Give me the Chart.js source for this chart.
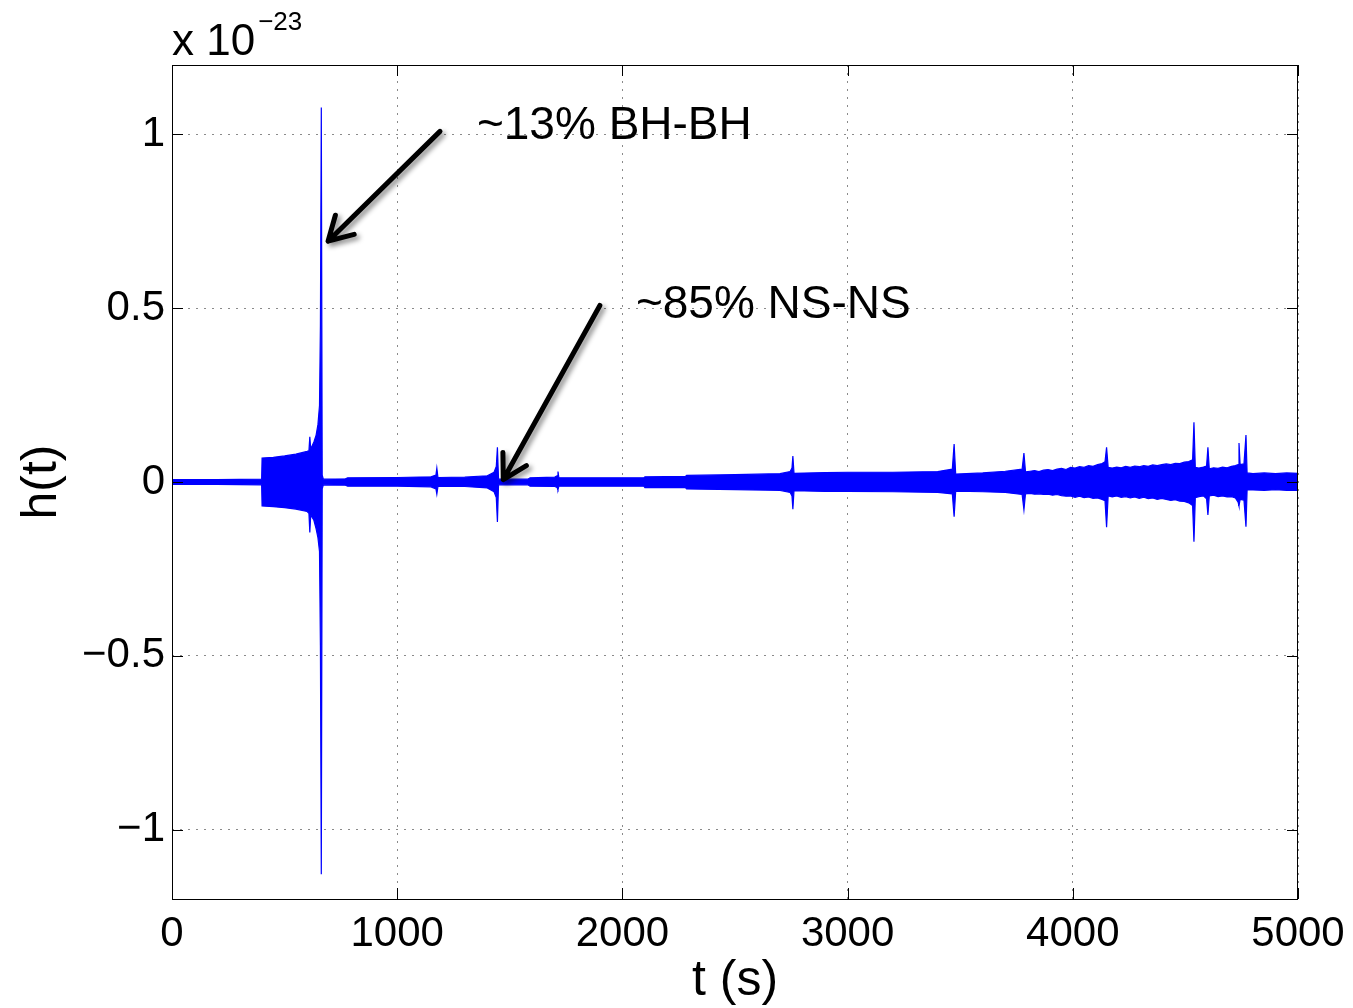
<!DOCTYPE html>
<html>
<head>
<meta charset="utf-8">
<script src="https://cdn.jsdelivr.net/npm/chart.js@4.4.1/dist/chart.umd.min.js"></script>
<style>
  html, body { margin: 0; padding: 0; background: #fff; }
</style>
</head>
<body>
<canvas id="strainChart" width="1353" height="1008"></canvas>
<script>
const FONT = "'Liberation Sans', Arial, Helvetica, sans-serif";

// envelope of the strain signal (h in units of 1e-23)
const envTime = [
  0, 200, 398, 400, 450, 500, 550, 600, 608, 612, 616, 630, 640, 648, 655, 659, 663, 667, 672,
  770, 780, 1000, 1150, 1172, 1176, 1181, 1300, 1400, 1430, 1440, 1445, 1450,
  1580, 1590, 1700, 1710, 1714, 1718, 2095, 2100, 2280, 2285, 2500, 2700,
  2745, 2753, 2757, 2762, 2900, 3000, 3200, 3400, 3465, 3473, 3480,
  3600, 3700, 3775, 3783, 3790, 3810, 3830, 3850, 3870, 3890, 3910, 3930, 3950, 3970,
  3990, 4010, 4030, 4050, 4070, 4090, 4110, 4130, 4143, 4150, 4157,
  4175, 4195, 4215, 4235, 4255, 4275, 4295, 4315, 4335, 4355, 4375, 4395,
  4415, 4435, 4455, 4475, 4495, 4515, 4532, 4538, 4544, 4560, 4580, 4594, 4600, 4606,
  4625, 4645, 4665, 4685, 4705, 4722, 4734, 4738, 4743, 4760, 4769, 4774,
  4800, 4850, 4900, 4950, 5000
];
const envUpper = [
  0.007, 0.007, 0.008, 0.069, 0.071, 0.075, 0.080, 0.088, 0.090, 0.130, 0.095, 0.115, 0.135, 0.165, 0.220, 0.450, 1.078, 0.020, 0.008,
  0.009, 0.012, 0.013, 0.015, 0.020, 0.040, 0.013, 0.014, 0.018, 0.028, 0.045, 0.100, 0.008,
  0.008, 0.012, 0.014, 0.018, 0.030, 0.012, 0.012, 0.015, 0.016, 0.019, 0.021, 0.024,
  0.030, 0.040, 0.075, 0.025, 0.027, 0.028, 0.028, 0.030, 0.037, 0.109, 0.023,
  0.026, 0.031, 0.037, 0.083, 0.029, 0.031, 0.033, 0.030, 0.034, 0.036, 0.033, 0.037, 0.039, 0.036,
  0.042, 0.040, 0.044, 0.042, 0.047, 0.045, 0.050, 0.053, 0.058, 0.100, 0.042,
  0.040, 0.043, 0.041, 0.045, 0.042, 0.046, 0.044, 0.047, 0.045, 0.049, 0.047, 0.050,
  0.052, 0.050, 0.054, 0.053, 0.057, 0.059, 0.064, 0.172, 0.042, 0.040, 0.043, 0.046, 0.100, 0.038,
  0.041, 0.039, 0.043, 0.041, 0.045, 0.047, 0.050, 0.112, 0.050, 0.052, 0.135, 0.026,
  0.024, 0.026, 0.024, 0.026, 0.025
];
const envLower = [
  -0.007, -0.007, -0.008, -0.069, -0.071, -0.074, -0.078, -0.085, -0.090, -0.145, -0.095, -0.110, -0.135, -0.160, -0.200, -0.470, -1.129, -0.020, -0.008,
  -0.009, -0.012, -0.012, -0.014, -0.020, -0.035, -0.013, -0.013, -0.017, -0.028, -0.045, -0.115, -0.008,
  -0.008, -0.012, -0.013, -0.016, -0.022, -0.012, -0.012, -0.016, -0.016, -0.020, -0.022, -0.024,
  -0.030, -0.040, -0.078, -0.025, -0.027, -0.027, -0.028, -0.030, -0.034, -0.100, -0.026,
  -0.028, -0.030, -0.036, -0.080, -0.034, -0.033, -0.035, -0.034, -0.036, -0.035, -0.038, -0.036, -0.039, -0.041,
  -0.040, -0.044, -0.041, -0.045, -0.043, -0.047, -0.046, -0.050, -0.054, -0.130, -0.040,
  -0.043, -0.040, -0.044, -0.042, -0.046, -0.043, -0.047, -0.044, -0.048, -0.046, -0.050, -0.047,
  -0.050, -0.053, -0.051, -0.055, -0.056, -0.060, -0.068, -0.172, -0.045, -0.042, -0.040, -0.048, -0.095, -0.040,
  -0.038, -0.042, -0.040, -0.043, -0.042, -0.046, -0.058, -0.069, -0.050, -0.052, -0.129, -0.023,
  -0.023, -0.024, -0.022, -0.024, -0.024
];

const xTicks = [0, 1000, 2000, 3000, 4000, 5000];
const yTicks = [-1, -0.5, 0, 0.5, 1];

// text + arrow annotations (data coordinates)
const notes = [
  { text: "~13% BH-BH", at: [1354, 0.986], from: [1190, 1.009], to: [693, 0.693] },
  { text: "~85% NS-NS", at: [2060, 0.471], from: [1900, 0.508], to: [1471, 0.007] }
];

const upperPts = envTime.map((t, i) => ({ x: t, y: envUpper[i] }));
const lowerPts = envTime.map((t, i) => ({ x: t, y: envLower[i] }));

const overlay = {
  id: "overlay",
  afterDraw(chart) {
    const { ctx, chartArea: a, scales: { x, y } } = chart;
    ctx.save();

    // box + inward ticks, matlab style
    ctx.strokeStyle = "#000";
    ctx.lineWidth = 1;
    ctx.strokeRect(a.left + 0.5, a.top + 0.5, a.right - a.left - 1, a.bottom - a.top);
    ctx.beginPath();
    xTicks.forEach(v => {
      const px = Math.round(x.getPixelForValue(v)) + 0.5;
      ctx.moveTo(px, a.bottom); ctx.lineTo(px, a.bottom - 11);
      ctx.moveTo(px, a.top); ctx.lineTo(px, a.top + 11);
    });
    yTicks.forEach(v => {
      const py = Math.round(y.getPixelForValue(v)) + 0.5;
      ctx.moveTo(a.left, py); ctx.lineTo(a.left + 11, py);
      ctx.moveTo(a.right, py); ctx.lineTo(a.right - 11, py);
    });
    ctx.stroke();

    // exponent label
    ctx.fillStyle = "#000";
    ctx.textBaseline = "alphabetic";
    ctx.textAlign = "left";
    ctx.font = `44px ${FONT}`;
    ctx.fillText("x 10", a.left, a.top - 10);
    const w = ctx.measureText("x 10").width;
    ctx.font = `26px ${FONT}`;
    ctx.fillText("\u221223", a.left + w + 3, a.top - 35);

    // arrows with a soft shadow
    notes.forEach(n => {
      const tx = x.getPixelForValue(n.from[0]), ty = y.getPixelForValue(n.from[1]);
      const hx = x.getPixelForValue(n.to[0]), hy = y.getPixelForValue(n.to[1]);
      const ang = Math.atan2(ty - hy, tx - hx);
      ctx.save();
      ctx.shadowColor = "rgba(0,0,0,0.45)";
      ctx.shadowBlur = 5;
      ctx.shadowOffsetX = 3;
      ctx.shadowOffsetY = 3;
      ctx.strokeStyle = "#000";
      ctx.lineWidth = 5;
      ctx.lineCap = "round";
      ctx.lineJoin = "round";
      ctx.beginPath();
      ctx.moveTo(tx, ty);
      ctx.lineTo(hx, hy);
      ctx.moveTo(hx + 27 * Math.cos(ang + 0.52), hy + 27 * Math.sin(ang + 0.52));
      ctx.lineTo(hx, hy);
      ctx.lineTo(hx + 27 * Math.cos(ang - 0.52), hy + 27 * Math.sin(ang - 0.52));
      ctx.stroke();
      ctx.restore();

      ctx.font = `46px ${FONT}`;
      ctx.fillText(n.text, x.getPixelForValue(n.at[0]), y.getPixelForValue(n.at[1]));
    });

    ctx.restore();
  }
};

new Chart(document.getElementById("strainChart"), {
  type: "line",
  data: {
    datasets: [
      {
        label: "upper",
        data: upperPts,
        borderColor: "#0000ff",
        backgroundColor: "#0000ff",
        borderWidth: 1.2,
        fill: "+1",
      },
      {
        label: "lower",
        data: lowerPts,
        borderColor: "#0000ff",
        backgroundColor: "#0000ff",
        borderWidth: 1.2,
        fill: false,
      },
    ],
  },
  options: {
    responsive: false,
    animation: false,
    layout: { padding: { top: 65, right: 55, left: 0, bottom: 0 } },
    elements: { point: { radius: 0 }, line: { tension: 0 } },
    plugins: { legend: { display: false }, tooltip: { enabled: false } },
    scales: {
      x: {
        type: "linear",
        min: 0,
        max: 5000,
        afterBuildTicks: s => { s.ticks = xTicks.map(v => ({ value: v })); },
        afterFit: s => { s.height = 109; s.paddingLeft = 0; s.paddingRight = 0; },
        grid: { color: "#8a8a8a", lineWidth: 1, drawTicks: false },
        border: { display: false, dash: [2, 6] },
        ticks: {
          color: "#000",
          font: { family: FONT, size: 42 },
          padding: 10,
          maxRotation: 0,
          autoSkip: false,
          callback: v => String(v),
        },
        title: {
          display: true,
          text: "t (s)",
          color: "#000",
          font: { family: FONT, size: 50, lineHeight: 1 },
          padding: { top: 0, bottom: 2 },
        },
      },
      y: {
        min: -1.2,
        max: 1.2,
        afterBuildTicks: s => { s.ticks = yTicks.map(v => ({ value: v })); },
        afterFit: s => { s.width = 172; },
        grid: { color: "#8a8a8a", lineWidth: 1, drawTicks: false },
        border: { display: false, dash: [2, 6] },
        ticks: {
          color: "#000",
          font: { family: FONT, size: 42 },
          padding: 7,
          callback: v => String(v).replace("-", "\u2212"),
        },
        title: {
          display: true,
          text: "h(t)",
          color: "#000",
          font: { family: FONT, size: 50, lineHeight: 1 },
          padding: { top: 17, bottom: 0 },
        },
      },
    },
  },
  plugins: [overlay],
});
</script>
</body>
</html>
